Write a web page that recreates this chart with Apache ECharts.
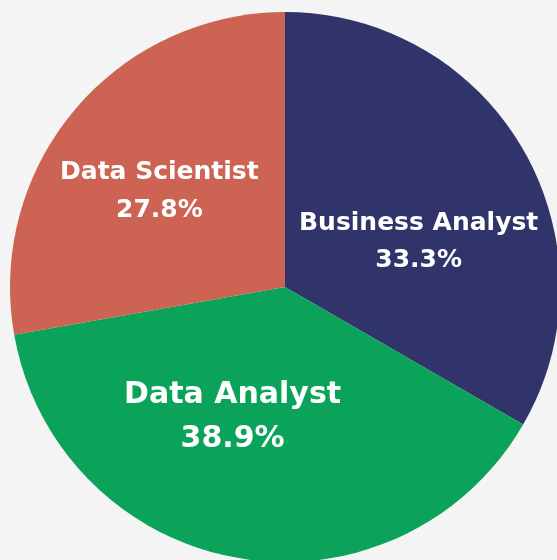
<!DOCTYPE html>
<html>
<head>
<meta charset="utf-8">
<script src="https://cdn.jsdelivr.net/npm/echarts@6/dist/echarts.min.js"></script>
<style>
html,body{margin:0;padding:0;background:#f4f4f4;}
#chart{width:557px;height:560px;}
</style>
</head>
<body>
<div id="chart"></div>
<script>
var categories = ['Business Analyst', 'Data Analyst', 'Data Scientist'];
var values = [6, 7, 5];
var colors = ['#31346b', '#0ba35a', '#cd6352'];
var labelSizes = [25, 30, 25];
var lineHeights = [37, 44, 38];
var labelOffsets = [[12, 25], [-28, -8], [-18, -5]];

var chart = echarts.init(document.getElementById('chart'));
var total = values.reduce(function(a, b){ return a + b; }, 0);
var data = categories.map(function(c, i){
  return {
    name: c,
    value: values[i],
    itemStyle: { color: colors[i] },
    label: {
      fontSize: labelSizes[i],
      lineHeight: lineHeights[i],
      offset: labelOffsets[i]
    }
  };
});
chart.setOption({
  backgroundColor: '#f4f4f4',
  animation: false,
  series: [{
    type: 'pie',
    center: [285, 287],
    radius: [0, 275],
    startAngle: 90,
    clockwise: true,
    label: {
      show: true,
      position: 'inside',
      color: '#ffffff',
      fontWeight: 'bold',
      fontFamily: 'DejaVu Sans',
      formatter: function(p){ return p.name + '\n' + (p.value / total * 100).toFixed(1) + '%'; }
    },
    labelLine: { show: false },
    itemStyle: { borderWidth: 0 },
    emphasis: { disabled: true },
    data: data
  }]
});
</script>
</body>
</html>
